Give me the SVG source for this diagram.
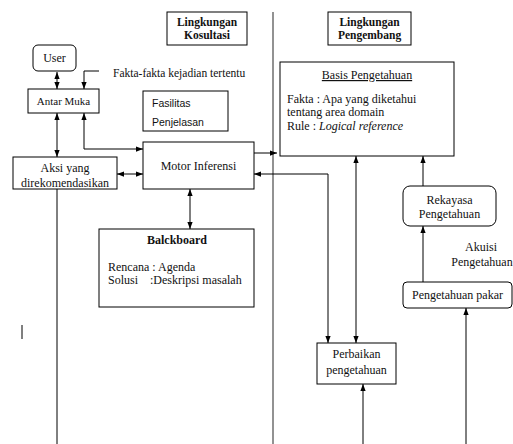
<svg xmlns="http://www.w3.org/2000/svg" width="513" height="444" viewBox="0 0 513 444">
<defs>
<marker id="ah" viewBox="0 0 8 6" refX="8" refY="3" markerWidth="7" markerHeight="6" markerUnits="userSpaceOnUse" orient="auto-start-reverse">
<path d="M0,0 L8,3 L0,6 z" fill="#000"/>
</marker>
<style>
.box{fill:#fff;stroke:#000;stroke-width:1}
.t{font-family:"Liberation Serif","Times New Roman",serif;font-size:12px;fill:#111}
.c{text-anchor:middle}
.b{font-weight:bold;font-size:11.5px}
.s{font-family:"Liberation Sans",Arial,sans-serif;font-size:10.5px;fill:#111}
.ln{fill:none;stroke:#000;stroke-width:1}
.a{marker-end:url(#ah)}
.aa{marker-start:url(#ah);marker-end:url(#ah)}
</style>
</defs>
<rect width="513" height="444" fill="#fff"/>
<g id="connectors">
<line x1="273" y1="12" x2="273" y2="444" stroke="#777" stroke-width="1.6"/>
<line class="ln aa" x1="57" y1="72" x2="57" y2="89"/>
<polyline class="ln a" points="99,71 84,71 84,89"/>
<line class="ln aa" x1="57" y1="113" x2="57" y2="157"/>
<polyline class="ln aa" points="84,113 84,149 143,149"/>
<line class="ln aa" x1="117" y1="174" x2="143" y2="174"/>
<line class="ln aa" x1="190" y1="189" x2="190" y2="229"/>
<line class="ln a" x1="254" y1="153" x2="277" y2="153"/>
<polyline class="ln aa" points="254,174 328,174 328,343"/>
<line class="ln aa" x1="356" y1="156" x2="356" y2="343"/>
<line class="ln a" x1="423" y1="186" x2="423" y2="156"/>
<line class="ln a" x1="423" y1="282" x2="423" y2="226"/>
<line class="ln a" x1="363" y1="444" x2="363" y2="384"/>
<line class="ln a" x1="466" y1="444" x2="466" y2="308"/>
<line class="ln" x1="57" y1="189" x2="57" y2="444"/>
<line class="ln" x1="22" y1="325" x2="22" y2="339"/>
</g>
<g id="lingkungan-kosultasi">
<rect class="box" x="167" y="12" width="80" height="33"/>
<text class="t c b" x="207" y="26">Lingkungan</text>
<text class="t c b" x="207" y="39">Kosultasi</text>
</g>
<g id="lingkungan-pengembang">
<rect class="box" x="328" y="12" width="83" height="33"/>
<text class="t c b" x="369.5" y="26">Lingkungan</text>
<text class="t c b" x="369.5" y="39">Pengembang</text>
</g>
<g id="user">
<rect class="box" x="33" y="45" width="43" height="26" rx="5"/>
<text class="t c" x="54.5" y="62">User</text>
</g>
<g id="fakta-label">
<text class="t" x="113" y="77" style="font-size:11.5px">Fakta-fakta kejadian tertentu</text>
</g>
<g id="antar-muka">
<rect class="box" x="28" y="89" width="71" height="24"/>
<text class="t c" x="63.5" y="105" style="font-size:11px">Antar Muka</text>
</g>
<g id="fasilitas-penjelasan">
<rect class="box" x="143" y="91" width="85" height="40"/>
<text class="s" x="152" y="107">Fasilitas</text>
<text class="s" x="152" y="126">Penjelasan</text>
</g>
<g id="aksi">
<rect class="box" x="13" y="157" width="104" height="32"/>
<text class="t c" x="65" y="172">Aksi yang</text>
<text class="t c" x="65" y="187">direkomendasikan</text>
</g>
<g id="motor-inferensi">
<rect class="box" x="143" y="142" width="111" height="47"/>
<text class="t c" x="198.5" y="170">Motor Inferensi</text>
</g>
<g id="blackboard">
<rect class="box" x="99" y="229" width="155" height="78"/>
<text class="t c b" x="177" y="244" style="font-size:12px">Balckboard</text>
<text class="t" x="108" y="271">Rencana : Agenda</text>
<text class="t" x="108" y="284">Solusi<tspan x="150">:Deskripsi masalah</tspan></text>
</g>
<g id="basis-pengetahuan">
<rect class="box" x="280" y="62" width="174" height="94"/>
<text class="t c" x="367" y="79" text-decoration="underline">Basis Pengetahuan</text>
<text class="t" x="287" y="103">Fakta : Apa yang diketahui</text>
<text class="t" x="287" y="116">tentang area domain</text>
<text class="t" x="287" y="130">Rule : <tspan font-style="italic">Logical reference</tspan></text>
</g>
<g id="rekayasa">
<rect class="box" x="403" y="186" width="93" height="40" rx="7"/>
<text class="t c" x="449.5" y="204">Rekayasa</text>
<text class="t c" x="449.5" y="218">Pengetahuan</text>
</g>
<g id="akuisi-label">
<text class="t c" x="481" y="251">Akuisi</text>
<text class="t c" x="482" y="266">Pengetahuan</text>
</g>
<g id="pengetahuan-pakar">
<rect class="box" x="403" y="282" width="109" height="26" rx="4"/>
<text class="t c" x="457.5" y="299">Pengetahuan pakar</text>
</g>
<g id="perbaikan">
<rect class="box" x="317" y="343" width="79" height="41"/>
<text class="t c" x="356.5" y="358">Perbaikan</text>
<text class="t c" x="356.5" y="374">pengetahuan</text>
</g>
</svg>
